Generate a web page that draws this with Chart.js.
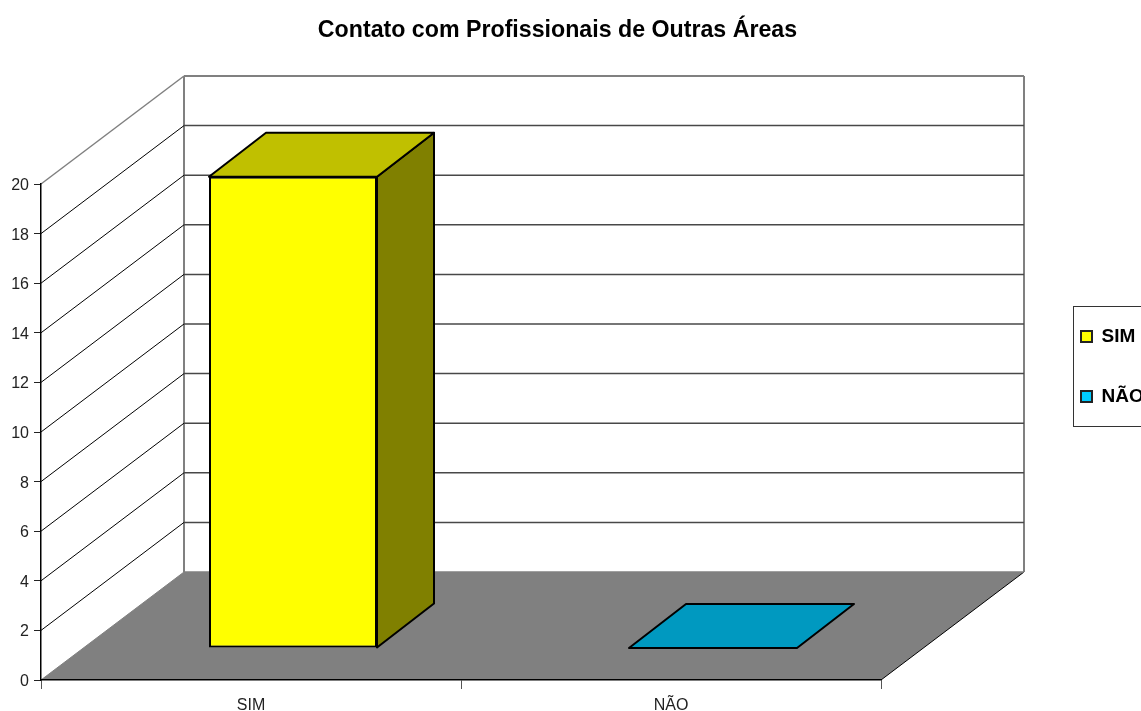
<!DOCTYPE html>
<html>
<head>
<meta charset="utf-8">
<style>html,body{margin:0;padding:0;background:#fff;overflow:hidden}canvas{display:block}</style>
<script src="https://cdn.jsdelivr.net/npm/chart.js@4/dist/chart.umd.min.js"></script>
</head>
<body>
<canvas id="c" width="1141" height="711"></canvas>
<script>
const categories = ['SIM', 'NÃO'];
const simValues = [19, null];
const naoValues = [null, 0];
const yTickStep = 2;
const yMax = 20;
const titleText = 'Contato com Profissionais de Outras Áreas';
const FONT = '"Liberation Sans", Arial, sans-serif';
const wallDepth = { dx: 143, dy: -108 };
const barShift = { dx: 42, dy: -32 };
const barDepth = { dx: 57, dy: -44 };
const faces = {
  SIM: { front: '#FFFF00', top: '#C0C000', side: '#808000' },
  'NÃO': { front: '#00CCFF', top: '#0099C0', side: '#006680' }
};

function poly(ctx, pts, fill, stroke, lw) {
  ctx.beginPath();
  pts.forEach((p, i) => i ? ctx.lineTo(p[0], p[1]) : ctx.moveTo(p[0], p[1]));
  ctx.closePath();
  if (fill) { ctx.fillStyle = fill; ctx.fill(); }
  if (stroke) { ctx.strokeStyle = stroke; ctx.lineWidth = lw; ctx.lineJoin = 'round'; ctx.stroke(); }
}
function seg(ctx, x0, y0, x1, y1, color, lw) {
  ctx.beginPath(); ctx.moveTo(x0, y0); ctx.lineTo(x1, y1);
  ctx.strokeStyle = color; ctx.lineWidth = lw; ctx.stroke();
}

const scene3d = {
  id: 'scene3d',
  afterLayout(chart) {
    chart.titleBlock.left = 0;
    chart.titleBlock.right = 1115;
    const lg = chart.legend;
    lg.left = 1040; lg.right = 1040 + lg.width;
    lg.top = 286; lg.bottom = 711;
  },
  beforeDraw(chart) {
    const { ctx, chartArea: a, scales } = chart;
    const { dx, dy } = wallDepth;
    ctx.save();
    ctx.fillStyle = '#fff';
    ctx.fillRect(0, 0, chart.width, chart.height);
    poly(ctx, [[a.left, a.bottom], [a.right, a.bottom], [a.right + dx, a.bottom + dy], [a.left + dx, a.bottom + dy]], '#808080');
    seg(ctx, a.right, a.bottom, a.right + dx, a.bottom + dy, '#000', 1);
    seg(ctx, a.left + dx, a.top + dy, a.left + dx, a.bottom + dy, '#808080', 2);
    seg(ctx, a.right + dx, a.top + dy, a.right + dx, a.bottom + dy, '#808080', 2);
    scales.y.ticks.forEach(t => {
      const y = scales.y.getPixelForValue(t.value);
      const isTop = t.value === yMax;
      const isFloor = t.value === 0;
      if (!isFloor) seg(ctx, a.left, y, a.left + dx, y + dy, isTop ? '#808080' : '#000', isTop ? 1.5 : 1);
      seg(ctx, a.left + dx, y + dy, a.right + dx, y + dy, isTop || isFloor ? '#808080' : '#484848', isTop ? 2 : 1.5);
    });
    seg(ctx, a.left, a.bottom, a.left + dx, a.bottom + dy, '#808080', 1);
    ctx.strokeStyle = '#333';
    ctx.lineWidth = 1;
    ctx.strokeRect(1073.5, 306.5, 100, 120);
    ctx.restore();
  },
  beforeDatasetDraw(chart, args) {
    const { ctx } = chart;
    ctx.save();
    ctx.translate(barShift.dx, barShift.dy);
    const ds = chart.data.datasets[args.index];
    const c = faces[ds.label];
    args.meta.data.forEach((bar, i) => {
      if (ds.data[i] === null) return;
      const p = bar.getProps(['x', 'y', 'base', 'width'], true);
      const l = p.x - p.width / 2, r = p.x + p.width / 2;
      const { dx, dy } = barDepth;
      if (p.base - p.y > 0.5) {
        poly(ctx, [[r, p.y], [r + dx, p.y + dy], [r + dx, p.base + dy], [r, p.base]], c.side, '#000', 2);
      }
      poly(ctx, [[l, p.y], [l + dx, p.y + dy], [r + dx, p.y + dy], [r, p.y]], c.top, '#000', 2);
    });
  },
  afterDatasetDraw(chart) {
    chart.ctx.restore();
  }
};

new Chart(document.getElementById('c'), {
  type: 'bar',
  data: {
    labels: categories,
    datasets: [
      { label: 'SIM', data: simValues, backgroundColor: faces.SIM.front },
      { label: 'NÃO', data: naoValues, backgroundColor: faces['NÃO'].front }
    ].map(d => Object.assign(d, {
      borderColor: '#000', borderWidth: 2, borderSkipped: false,
      barPercentage: 0.4, categoryPercentage: 1, clip: false
    }))
  },
  options: {
    responsive: false,
    animation: false,
    layout: { padding: { left: 0, right: 260, top: 0, bottom: 0 } },
    plugins: {
      tooltip: { enabled: false },
      title: {
        display: true, text: titleText, color: '#000',
        font: { family: FONT, size: 23.2, weight: 'bold' },
        padding: { top: 16.5, bottom: 139.66 }
      },
      legend: {
        display: true, position: 'chartArea', align: 'start',
        labels: {
          boxWidth: 11, boxHeight: 11, padding: 41, color: '#000',
          font: { family: FONT, size: 19, weight: 'bold' },
          generateLabels(chart) {
            return chart.data.datasets.map((d, i) => ({
              text: d.label, fillStyle: d.backgroundColor, strokeStyle: '#222',
              lineWidth: 2, datasetIndex: i, hidden: false
            }));
          }
        }
      }
    },
    scales: {
      x: {
        stacked: true,
        afterFit(s) { s.height = 31; },
        border: { color: '#000', width: 1.5 },
        grid: { drawOnChartArea: false, drawTicks: true, tickLength: 9, offset: true, color: '#555' },
        ticks: { color: '#222', font: { family: FONT, size: 16 }, padding: 7, maxRotation: 0, autoSkip: false }
      },
      y: {
        stacked: true, min: 0, max: yMax,
        afterFit(s) { s.width = 41; },
        border: { color: '#000', width: 1.5 },
        grid: { drawOnChartArea: false, drawTicks: true, tickLength: 7, color: '#222' },
        ticks: { stepSize: yTickStep, color: '#222', font: { family: FONT, size: 16 }, padding: 5, labelOffset: 1.5 }
      }
    }
  },
  plugins: [scene3d]
});
</script>
</body>
</html>
